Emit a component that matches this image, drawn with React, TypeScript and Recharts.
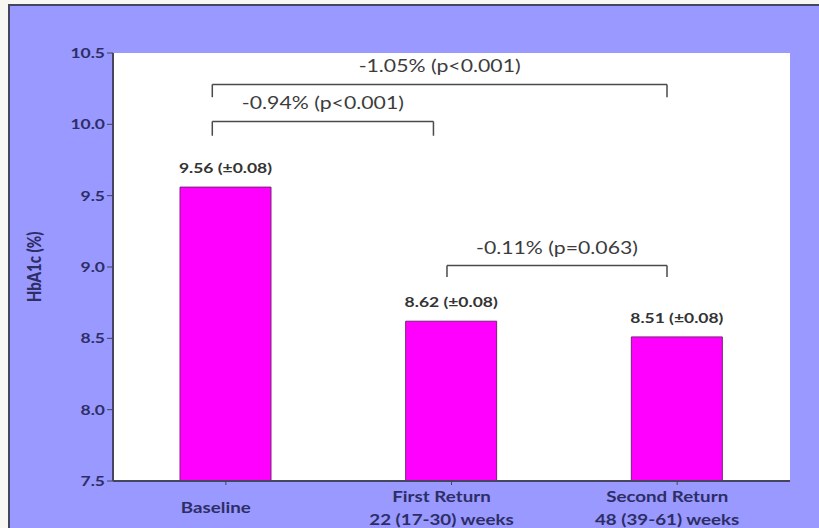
import type { JSX } from "react";
import {
  BarChart,
  Bar,
  XAxis,
  YAxis,
  CartesianGrid,
  ReferenceLine,
  LabelList,
  Label,
} from "recharts";

// bar data
const categories = ["Baseline", "First Return", "Second Return"];
const periods = ["", "22 (17-30) weeks", "48 (39-61) weeks"];
const hba1c = [9.56, 8.62, 8.51];
const sem = [0.08, 0.08, 0.08];
const yTicks = [7.5, 8.0, 8.5, 9.0, 9.5, 10.0, 10.5];

// comparison brackets (x in category-index units, y in HbA1c units)
const compareText = ["-1.05% (p<0.001)", "-0.94% (p<0.001)", "-0.11% (p=0.063)"];
const compareFrom = [-0.06, -0.06, 0.98];
const compareTo = [1.955, 0.92, 1.955];
const compareLevel = [10.28, 10.02, 9.01];
const compareDrop = [10.19, 9.92, 8.93];

const rows = categories.map((name, i) => ({
  name,
  slot: i,
  value: hba1c[i],
  tag: `${hba1c[i].toFixed(2)} (±${sem[i].toFixed(2)})`,
}));

// the source picture is stretched sideways, so text is too
const STRETCH = 1.25;
const FONT = "Lato, 'Open Sans', sans-serif";
const AXIS_INK = "#2e2e66";
const FRAME = "#45455f";

const Stretched = ({ x, y, children, ...rest }: any): JSX.Element => (
  <text
    transform={`translate(${x},${y}) scale(${STRETCH},1)`}
    fontFamily={FONT}
    {...rest}
  >
    {children}
  </text>
);

const YTick = ({ x, y, payload }: any): JSX.Element => (
  <Stretched x={x} y={y + 5} textAnchor="end" fontSize={14} fontWeight="bold" fill={AXIS_INK}>
    {Number(payload.value).toFixed(1)}
  </Stretched>
);

const XTick = ({ x, y, payload }: any): JSX.Element => {
  const i = categories.indexOf(payload.value);
  const lines = [payload.value, periods[i]].filter((s) => s);
  const first = y + 26 - (lines.length - 1) * 11.5;
  return (
    <g>
      {lines.map((s, k) => (
        <Stretched
          key={k}
          x={x - 10}
          y={first + k * 23}
          textAnchor="middle"
          fontSize={15}
          fontWeight="bold"
          fill={AXIS_INK}
        >
          {s}
        </Stretched>
      ))}
    </g>
  );
};

const ValueTag = ({ x, y, width, value }: any): JSX.Element => (
  <Stretched
    x={x + width / 2}
    y={y - 14}
    textAnchor="middle"
    fontSize={14}
    fontWeight="bold"
    fill="#333333"
  >
    {value}
  </Stretched>
);

const bracketLabel = (text: string) => (props: any) => {
  const vb = props.viewBox;
  return (
    <Stretched
      x={vb.x + vb.width / 2}
      y={vb.y - 12}
      textAnchor="middle"
      fontSize={17}
      fill="#3c3c3c"
    >
      {text}
    </Stretched>
  );
};

const YTitle = (props: any): JSX.Element => {
  const vb = props.viewBox;
  return (
    <text
      transform={`translate(${vb.x + 41},${vb.y + vb.height / 2}) rotate(-90) scale(1,${STRETCH})`}
      textAnchor="middle"
      fontFamily={FONT}
      fontSize={15}
      fontWeight={900}
      fill={AXIS_INK}
    >
      HbA1c (%)
    </text>
  );
};

const lineStyle = { stroke: "#4a4a4a", strokeWidth: 1.5 };

const App = (): JSX.Element => {
  return (
    <div
      style={{
        position: "absolute",
        left: 0,
        top: 0,
        width: 819,
        height: 528,
        background: "#f7f8f2",
        overflow: "hidden",
      }}
    >
      <div
        style={{
          position: "absolute",
          left: 8,
          top: 4,
          width: 820,
          height: 530,
          background: "#9999ff",
          border: `2px solid ${FRAME}`,
        }}
      />
      <div style={{ position: "absolute", left: 0, top: 0 }}>
        <BarChart
          width={819}
          height={528}
          data={rows}
          margin={{ top: 53, right: 29, bottom: 0, left: 0 }}
        >
          <CartesianGrid fill="#ffffff" horizontal={false} vertical={false} />
          <XAxis
            dataKey="name"
            height={47}
            tick={<XTick />}
            tickSize={4}
            tickLine={{ stroke: FRAME }}
            axisLine={{ stroke: FRAME, strokeWidth: 2 }}
            interval={0}
          />
          <XAxis
            xAxisId="top"
            dataKey="slot"
            orientation="top"
            type="number"
            domain={[-0.5, 2.5]}
            allowDataOverflow
            height={0}
            tick={false}
            tickLine={false}
            axisLine={{ stroke: FRAME, strokeWidth: 2 }}
          />
          <YAxis
            width={113}
            domain={[7.5, 10.5]}
            ticks={yTicks}
            tick={<YTick />}
            tickSize={6}
            tickLine={{ stroke: FRAME }}
            axisLine={{ stroke: FRAME, strokeWidth: 2 }}
            interval={0}
          >
            <Label content={<YTitle />} />
          </YAxis>
          <YAxis
            yAxisId="right"
            orientation="right"
            width={0}
            domain={[7.5, 10.5]}
            tick={false}
            tickLine={false}
            axisLine={{ stroke: FRAME, strokeWidth: 2 }}
          />
          <Bar
            dataKey="value"
            barSize={91}
            fill="#ff00ff"
            stroke="#7a207a"
            strokeWidth={1}
            isAnimationActive={false}
          >
            <LabelList dataKey="tag" content={<ValueTag />} />
          </Bar>
          {compareText.map((t, i) => (
            <ReferenceLine
              key={`h${i}`}
              xAxisId="top"
              ifOverflow="visible"
              segment={[
                { x: compareFrom[i], y: compareLevel[i] },
                { x: compareTo[i], y: compareLevel[i] },
              ]}
              {...lineStyle}
              label={bracketLabel(t)}
            />
          ))}
          {compareText.map((t, i) => (
            <ReferenceLine
              key={`l${i}`}
              xAxisId="top"
              ifOverflow="visible"
              segment={[
                { x: compareFrom[i], y: compareLevel[i] },
                { x: compareFrom[i], y: compareDrop[i] },
              ]}
              {...lineStyle}
            />
          ))}
          {compareText.map((t, i) => (
            <ReferenceLine
              key={`r${i}`}
              xAxisId="top"
              ifOverflow="visible"
              segment={[
                { x: compareTo[i], y: compareLevel[i] },
                { x: compareTo[i], y: compareDrop[i] },
              ]}
              {...lineStyle}
            />
          ))}
        </BarChart>
      </div>
    </div>
  );
};

export default App;
